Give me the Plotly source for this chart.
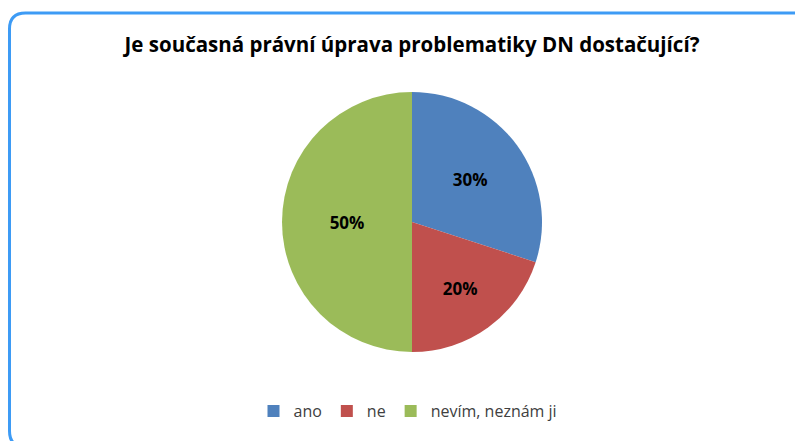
import plotly.graph_objects as go

# data
labels = ["ano", "ne", "nevím, neznám ji"]
values = [30, 20, 50]
colors = ["#4F81BD", "#C0504D", "#9BBB59"]
title = "Je současná právní úprava problematiky DN dostačující?"

W, H = 803, 441
OFF = 8  # page body margin


def px(x):
    return (x - OFF) / W


def py(y):
    return 1 - (y - OFF) / H


def rounded_box(x0, y0, x1, y1, r):
    return (
        f"M {px(x0 + r)},{py(y0)} L {px(x1 - r)},{py(y0)} "
        f"Q {px(x1)},{py(y0)} {px(x1)},{py(y0 + r)} "
        f"L {px(x1)},{py(y1 - r)} Q {px(x1)},{py(y1)} {px(x1 - r)},{py(y1)} "
        f"L {px(x0 + r)},{py(y1)} Q {px(x0)},{py(y1)} {px(x0)},{py(y1 - r)} "
        f"L {px(x0)},{py(y0 + r)} Q {px(x0)},{py(y0)} {px(x0 + r)},{py(y0)} Z"
    )


cx, cy, rad = 412, 222, 130

fig = go.Figure(
    go.Pie(
        labels=labels,
        values=values,
        sort=False,
        direction="clockwise",
        rotation=0,
        marker=dict(colors=colors, line=dict(color="white", width=0)),
        texttemplate="%{percent:.0%}",
        textposition="inside",
        insidetextorientation="horizontal",
        textfont=dict(family="Open Sans", size=17, color="black", weight="bold"),
        domain=dict(x=[px(cx - 2 * rad), px(cx + 2 * rad)], y=[py(cy + rad), py(cy - rad)]),
        hoverinfo="label+percent",
    )
)

fig.update_layout(
    width=W,
    height=H,
    margin=dict(l=0, r=0, t=0, b=0),
    paper_bgcolor="white",
    font=dict(family="Open Sans", color="#222222"),
    title=dict(
        text=f"<b>{title}</b>",
        x=px(412),
        xanchor="center",
        y=py(45),
        yanchor="middle",
        font=dict(size=20.5, color="black"),
    ),
    legend=dict(
        orientation="h",
        x=px(408),
        xanchor="center",
        y=py(411),
        yanchor="middle",
        font=dict(size=16, color="#404040"),
        itemwidth=30,
    ),
    shapes=[
        dict(
            type="path",
            xref="paper",
            yref="paper",
            path=rounded_box(9.5, 13, 812, 447, 16),
            line=dict(color="#3D9BF5", width=3),
            layer="below",
        )
    ],
)

fig.write_html("out.html")
